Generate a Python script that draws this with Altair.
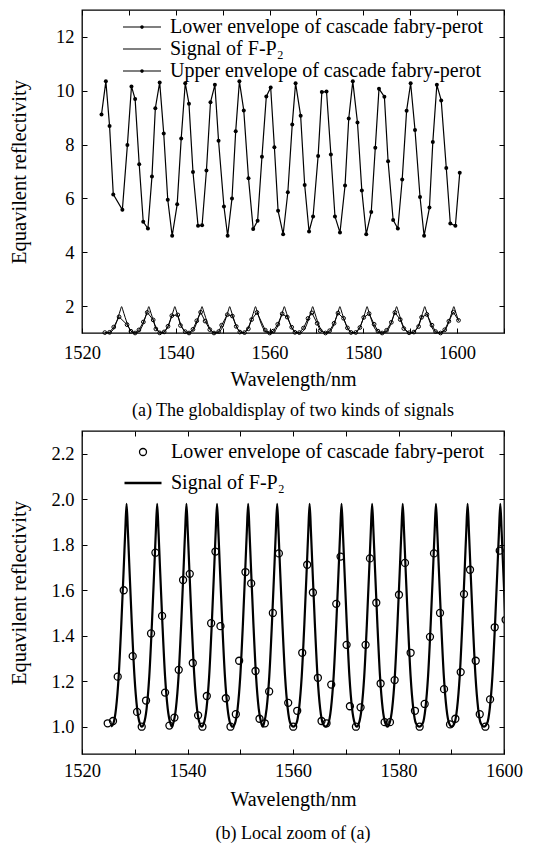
import altair as alt
import pandas as pd

FONT = "Liberation Serif"

# ---------------- data ----------------
# Upper envelope of cascade fabry-perot (panel a)
upper_nm = [1524.16, 1525.09, 1525.88, 1526.67, 1528.61, 1529.68, 1530.55, 1531.33, 1532.20, 1533.06,
            1534.06, 1534.92, 1535.64, 1536.57, 1537.43, 1538.29, 1539.23, 1540.30, 1541.16, 1542.02,
            1542.81, 1543.67, 1544.75, 1545.61, 1546.54, 1547.40, 1548.34, 1549.12, 1550.27, 1551.06,
            1551.99, 1552.78, 1553.57, 1554.50, 1555.51, 1556.51, 1557.45, 1558.38, 1559.31, 1560.24,
            1561.03, 1561.82, 1562.90, 1563.90, 1564.84, 1565.55, 1566.63, 1567.49, 1568.42, 1569.28,
            1570.36, 1571.15, 1572.15, 1573.08, 1573.95, 1575.02, 1576.10, 1576.89, 1577.75, 1578.75,
            1579.68, 1580.62, 1581.69, 1582.55, 1583.34, 1584.49, 1585.28, 1586.36, 1587.36, 1588.29,
            1589.23, 1590.09, 1591.02, 1592.09, 1592.96, 1594.10, 1594.82, 1595.68, 1596.61, 1597.69,
            1598.55, 1599.63, 1600.56]
upper_val = [9.12, 10.35, 8.69, 6.15, 5.58, 7.98, 10.16, 9.69, 7.27, 5.13,
             4.88, 6.81, 9.35, 10.31, 8.41, 5.95, 4.61, 5.78, 8.23, 10.28,
             9.52, 6.98, 4.98, 5.00, 7.04, 9.57, 10.22, 8.14, 5.70, 4.61,
             6.00, 8.50, 10.35, 9.27, 6.75, 4.86, 5.17, 7.55, 9.79, 10.12,
             7.90, 5.54, 4.67, 6.23, 8.75, 10.28, 9.07, 6.50, 4.77, 5.33,
             7.58, 9.95, 9.97, 7.63, 5.33, 4.73, 6.48, 8.97, 10.35, 8.82,
             6.29, 4.67, 5.50, 7.88, 10.07, 9.78, 7.38, 5.20, 4.88, 6.70,
             9.26, 10.28, 8.54, 6.05, 4.61, 5.66, 8.10, 10.22, 9.64, 7.13,
             5.07, 4.98, 6.95]

# Lower envelope of cascade fabry-perot (both panels)
lower_nm = [1524.87, 1525.88, 1526.77, 1527.91, 1529.61, 1530.44, 1531.32, 1532.14, 1533.09, 1533.92,
            1535.18, 1535.75, 1536.57, 1537.52, 1538.34, 1539.16, 1540.43, 1541.00, 1542.01, 1542.83,
            1543.66, 1544.48, 1545.30, 1546.25, 1547.26, 1548.15, 1549.16, 1549.79, 1550.99, 1552.07,
            1552.89, 1553.65, 1554.66, 1555.48, 1556.18, 1557.32, 1559.09, 1560.04, 1560.80, 1561.75,
            1562.69, 1563.77, 1564.72, 1565.41, 1566.36, 1567.25, 1568.20, 1569.02, 1570.16, 1570.79,
            1571.93, 1572.81, 1573.76, 1574.59, 1575.79, 1576.61, 1577.37, 1578.38, 1579.27, 1580.09,
            1581.23, 1582.30, 1583.12, 1584.01, 1584.96, 1585.97, 1586.73, 1587.87, 1588.63, 1589.77,
            1590.78, 1591.79, 1592.42, 1593.56, 1594.64, 1595.40, 1596.47, 1597.36, 1598.24, 1599.19,
            1600.30]
lower_val = [1.015, 1.025, 1.22, 1.60, 1.31, 1.065, 1.00, 1.115, 1.41, 1.765,
             1.487, 1.15, 1.005, 1.04, 1.25, 1.645, 1.672, 1.28, 1.05, 1.00,
             1.135, 1.455, 1.77, 1.442, 1.125, 1.00, 1.055, 1.29, 1.68, 1.63,
             1.245, 1.035, 1.015, 1.155, 1.50, 1.762, 1.105, 1.00, 1.07, 1.325,
             1.712, 1.59, 1.215, 1.025, 1.015, 1.185, 1.54, 1.748, 1.36, 1.09,
             1.00, 1.085, 1.36, 1.74, 1.545, 1.19, 1.02, 1.02, 1.205, 1.58,
             1.72, 1.325, 1.07, 1.00, 1.10, 1.395, 1.762, 1.50, 1.165, 1.01,
             1.035, 1.24, 1.583, 1.69, 1.29, 1.055, 1.00, 1.12, 1.437, 1.774,
             1.47]

# Signal of F-P2: peak / trough positions and the fringe profile
signal_peak_nm = [1528.45, 1534.25, 1539.80, 1545.60, 1551.50, 1557.00, 1563.15,
                  1569.20, 1575.00, 1580.80, 1587.10, 1593.10, 1599.30]
signal_trough_nm = [1525.50, 1531.35, 1537.03, 1542.70, 1548.55, 1554.25, 1560.08,
                    1566.18, 1572.10, 1577.90, 1583.95, 1590.10, 1596.20]
profile_offset_nm = [0.25, 0.5, 1.0, 1.5, 2.0, 2.5]
profile_val = [1.86, 1.72, 1.45, 1.22, 1.08, 1.015]
SIGNAL_PEAK = 1.98
SIGNAL_TROUGH = 1.00
SIGNAL_END = 1600.5

x_ticks = [1520, 1530, 1540, 1550, 1560, 1570, 1580, 1590, 1600, 1610]
y_ticks_a = [2, 4, 6, 8, 10, 12]
y_ticks_b = [1.0, 1.2, 1.4, 1.6, 1.8, 2.0, 2.2]

S_LOW = "Lower envelope of cascade fabry-perot"
S_SIG = "Signal of F-P\u2082"
S_UP = "Upper envelope of cascade fabry-perot"

# ---------------- tables ----------------
pts = [(t, SIGNAL_TROUGH) for t in signal_trough_nm]
edges = signal_trough_nm + [SIGNAL_END]
for i, p in enumerate(signal_peak_nm):
    lo, hi = edges[i], edges[i + 1]
    pts.append((p, SIGNAL_PEAK))
    for d, v in zip(profile_offset_nm, profile_val):
        if p - d > lo + 0.05:
            pts.append((p - d, v))
        if p + d < hi - 0.05:
            pts.append((p + d, v))
pts.sort()
df_signal = pd.DataFrame(pts, columns=["nm", "val"])
df_upper = pd.DataFrame({"nm": upper_nm, "val": upper_val})
df_lower = pd.DataFrame({"nm": lower_nm, "val": lower_val})

W, H = 422, 323
label_expr = "datum.value % 20 == 0 ? datum.label : ''"
LBL = dict(labelFont=FONT, labelFontSize=18.5, labelColor="black",
           titleFont=FONT, titleFontSize=20, titleColor="black", titleFontWeight="normal",
           tickColor="black", tickWidth=1)


def x_axis_bottom(label_pad, title_pad):
    return alt.Axis(orient="bottom", values=x_ticks, labelExpr=label_expr, format="d",
                    offset=-5, tickSize=5, domain=False, grid=False, labelPadding=label_pad,
                    labelFlush=False, labelOverlap=False, title="Wavelength/nm",
                    titlePadding=title_pad, **LBL)


def x_axis_top():
    return alt.Axis(orient="top", values=x_ticks, offset=-5, tickSize=5, domain=False,
                    grid=False, labels=False, title=None, tickColor="black", tickWidth=1)


def y_axis_left(values, fmt):
    kw = dict(LBL)
    kw["titleFontSize"] = 20.5
    return alt.Axis(orient="left", values=values, format=fmt, offset=-5, tickSize=5,
                    domain=False, grid=False, labelPadding=8, labelFlush=False,
                    labelOverlap=False, title="Equavilent reflectivity",
                    titleX=-68, titleBaseline="middle", **kw)


def y_axis_right(values):
    return alt.Axis(orient="right", values=values, offset=-5, tickSize=5, domain=False,
                    grid=False, labels=False, title=None, tickColor="black", tickWidth=1)


# ---------------- panel (a) ----------------
xs_a = alt.Scale(domain=[1520, 1610], nice=False, zero=False)
ys_a = alt.Scale(domain=[1, 13], nice=False, zero=False)

a_signal = alt.Chart(df_signal).mark_line(color="black", strokeWidth=1.0, interpolate="monotone").encode(
    x=alt.X("nm:Q", scale=xs_a, axis=x_axis_bottom(10, 8)),
    y=alt.Y("val:Q", scale=ys_a, axis=y_axis_left(y_ticks_a, "d")),
)
a_upper = alt.Chart(df_upper).mark_line(color="black", strokeWidth=1.2).encode(
    x=alt.X("nm:Q", scale=xs_a, axis=x_axis_top()),
    y=alt.Y("val:Q", scale=ys_a, axis=y_axis_right(y_ticks_a)),
)
a_upper_pts = alt.Chart(df_upper).mark_point(filled=True, color="black", size=16, opacity=1).encode(
    x=alt.X("nm:Q", scale=xs_a, axis=None), y=alt.Y("val:Q", scale=ys_a, axis=None))
a_lower = alt.Chart(df_lower).mark_line(color="black", strokeWidth=1.0).encode(
    x=alt.X("nm:Q", scale=xs_a, axis=None), y=alt.Y("val:Q", scale=ys_a, axis=None))
a_lower_pts = alt.Chart(df_lower).mark_point(filled=False, color="black", size=14, strokeWidth=1, opacity=1).encode(
    x=alt.X("nm:Q", scale=xs_a, axis=None), y=alt.Y("val:Q", scale=ys_a, axis=None))

series_a = [S_LOW, S_SIG, S_UP]
path_line_dot = "M-3.8,0L3.8,0M-0.24,0A0.24,0.24,0,1,0,0.24,0A0.24,0.24,0,1,0,-0.24,0Z"
path_line = "M-3.8,0L3.8,0"
a_legend = alt.Chart(pd.DataFrame({"series_a": series_a})).transform_filter("false").mark_point(
    filled=False, color="black", opacity=1).encode(
    shape=alt.Shape("series_a:N", scale=alt.Scale(domain=series_a, range=[path_line_dot, path_line, path_line_dot]),
                    legend=alt.Legend(title=None, orient="none", legendX=50, legendY=7, direction="vertical",
                                      labelFont=FONT, labelFontSize=20, labelColor="black", labelLimit=400,
                                      symbolSize=100, symbolStrokeWidth=1.2, symbolStrokeColor="black",
                                      labelOffset=18, rowPadding=2, padding=0))
)

panel_a = alt.layer(a_signal, a_upper, a_lower, a_upper_pts, a_lower_pts, a_legend).properties(
    width=W, height=H,
    title=alt.TitleParams("(a) The globaldisplay of two kinds of signals", orient="bottom",
                          anchor="middle", offset=12),
)

# ---------------- panel (b) ----------------
xs_b = alt.Scale(domain=[1520, 1600], nice=False, zero=False)
ys_b = alt.Scale(domain=[0.88, 2.3], nice=False, zero=False)

b_signal = alt.Chart(df_signal).mark_line(color="black", strokeWidth=2.2, interpolate="monotone", clip=True).encode(
    x=alt.X("nm:Q", scale=xs_b, axis=x_axis_bottom(7, 10)),
    y=alt.Y("val:Q", scale=ys_b, axis=y_axis_left(y_ticks_b, ".1f")),
)
b_lower = alt.Chart(df_lower).mark_point(filled=False, color="black", size=49, strokeWidth=1.3, opacity=1, clip=True).encode(
    x=alt.X("nm:Q", scale=xs_b, axis=x_axis_top()),
    y=alt.Y("val:Q", scale=ys_b, axis=y_axis_right(y_ticks_b)),
)
series_b = [S_LOW, S_SIG]
path_circle = "M-0.7,0A0.7,0.7,0,1,0,0.7,0A0.7,0.7,0,1,0,-0.7,0Z"
path_thick = "M-3.7,-0.12L3.7,-0.12M-3.7,0.12L3.7,0.12"
b_legend = alt.Chart(pd.DataFrame({"series_b": series_b})).transform_filter("false").mark_point(
    filled=False, color="black", opacity=1).encode(
    shape=alt.Shape("series_b:N", scale=alt.Scale(domain=series_b, range=[path_circle, path_thick]),
                    legend=alt.Legend(title=None, orient="none", legendX=51, legendY=11, direction="vertical",
                                      labelFont=FONT, labelFontSize=20, labelColor="black", labelLimit=400,
                                      symbolSize=100, symbolStrokeWidth=1.3, symbolStrokeColor="black",
                                      labelOffset=18, rowPadding=11, padding=0))
)

panel_b = alt.layer(b_signal, b_lower, b_legend).properties(
    width=W, height=H,
    title=alt.TitleParams("(b) Local zoom of (a)", orient="bottom", anchor="middle", offset=15),
)

chart = alt.vconcat(panel_a, panel_b, spacing=8).resolve_scale(
    shape="independent"
).resolve_legend(
    shape="independent"
).properties(
    padding={"left": 0, "top": 0, "right": 5, "bottom": 0}
).configure_view(
    stroke="black", strokeWidth=1.3
).configure_axis(
    labelFont=FONT, titleFont=FONT, labelFontSize=18.5, titleFontSize=20,
    labelColor="black", titleColor="black", tickColor="black", tickWidth=1,
    titleFontWeight="normal",
).configure_title(
    font=FONT, fontSize=18, fontWeight="normal", color="black"
).configure_legend(
    labelFont=FONT
)

chart.save("out.html", embed_options={"renderer": "svg", "actions": False})
